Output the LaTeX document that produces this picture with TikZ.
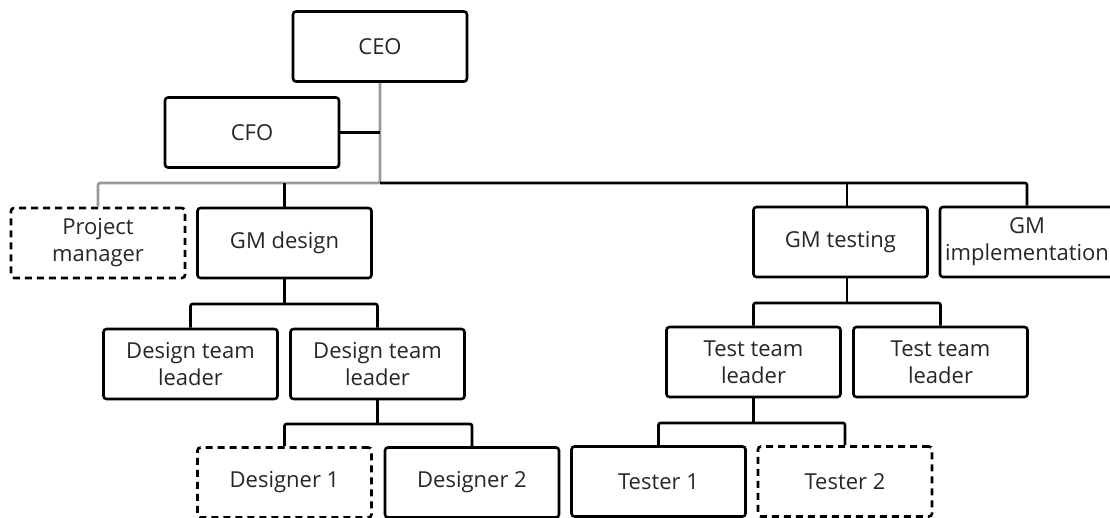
\documentclass[tikz,border=0pt]{standalone}
\usepackage{fontspec}
\setmainfont{Open Sans}
\usepackage{tikz}
\usetikzlibrary{positioning}

\begin{document}
\begin{tikzpicture}[x=1pt, y=-1pt,
    role/.style={draw, line width=2.6pt, rounded corners=3pt,
      minimum width=174pt, minimum height=70pt, inner sep=0pt,
      align=center, font=\fontsize{22}{27}\selectfont, text=black!85},
    vacant/.style={role, dash pattern=on 7pt off 5pt},
    link/.style={line width=2.6pt, rounded corners=2pt},
    oldlink/.style={link, draw=black!40}]
    \clip (0,0) rectangle (1110,518);

    % top of the company
    \node[role] (ceo) at (380,46.5) {CEO};
    \node[role] (cfo) at (252,132.5) {CFO};

    % the general managers and the project manager
    \node[vacant] (pm) at (98,243) {Project\\manager};
    \node[role] (gmdesign) at (284.5,243) {GM design};
    \node[role] (gmtest) at (840.5,242) {GM testing};
    \node[role] (gmimpl) at (1027,242) {GM\\implementation};

    % team leaders
    \node[role] (dtl1) at (190.5,364) {Design team\\leader};
    \node[role] (dtl2) at (377.5,364) {Design team\\leader};
    \node[role] (ttl1) at (753.5,362) {Test team\\leader};
    \node[role] (ttl2) at (940.5,362) {Test team\\leader};

    % designers and testers
    \node[vacant] (des1) at (284.5,482.5) {Designer 1};
    \node[role] (des2) at (472,482.5) {Designer 2};
    \node[role] (tst1) at (658.5,481.5) {Tester 1};
    \node[vacant] (tst2) at (845,481.5) {Tester 2};

    % main bus under the CEO
    \coordinate (bus) at (ceo.south |- 0,183);
    \draw[oldlink] (ceo.south) -- (bus) -| (pm.north);
    \draw[link] (cfo.east) -- (cfo.east -| bus);
    \draw[link] (gmdesign.north) -- (gmdesign.north |- bus);
    \draw[link] (bus) -| (gmimpl.north);
    \coordinate (tjoin) at (847,303);
    \draw[link] (tjoin |- bus) -- (tjoin |- gmtest.north);

    % design branch
    \coordinate (djoin) at (gmdesign.south |- 0,304);
    \draw[link] (gmdesign.south) -- (djoin);
    \draw[link] (dtl1.north) |- (djoin) -| (dtl2.north);
    \coordinate (dsjoin) at (dtl2.south |- 0,424);
    \draw[link] (dtl2.south) -- (dsjoin);
    \draw[link] (des1.north) |- (dsjoin) -| (des2.north);

    % testing branch
    \draw[link] (tjoin |- gmtest.south) -- (tjoin);
    \draw[link] (ttl1.north) |- (tjoin) -| (ttl2.north);
    \coordinate (tsjoin) at (ttl1.south |- 0,423);
    \draw[link] (ttl1.south) -- (tsjoin);
    \draw[link] (tst1.north) |- (tsjoin) -| (tst2.north);
\end{tikzpicture}
\end{document}
